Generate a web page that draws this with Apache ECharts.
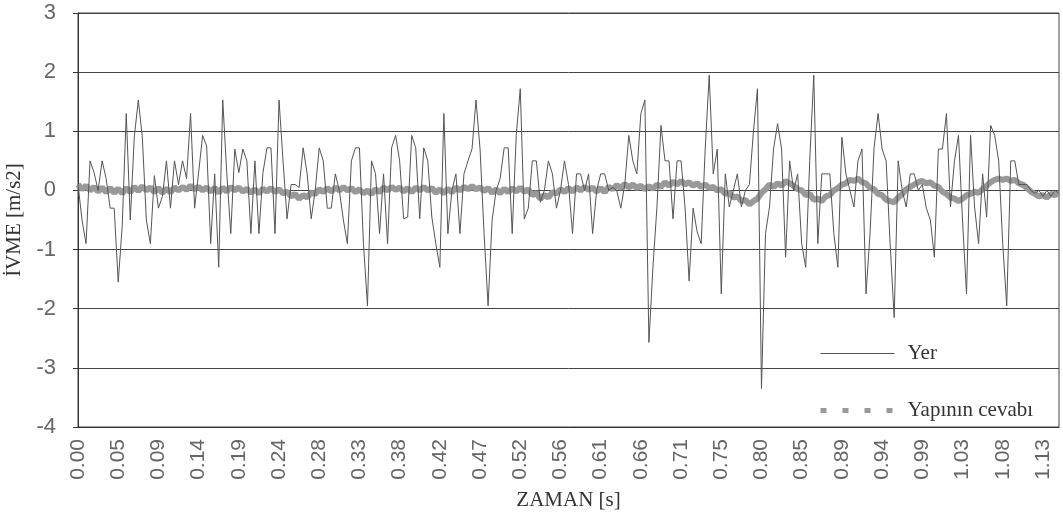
<!DOCTYPE html>
<html>
<head>
<meta charset="utf-8">
<script src="https://cdn.jsdelivr.net/npm/echarts@6/dist/echarts.min.js"></script>
<style>
  html, body { margin: 0; padding: 0; background: #fff; }
  #chart { width: 1063px; height: 521px; }
</style>
</head>
<body>
<div id="chart"></div>
<script>
// Sampling step of the record [s]
const dt = 0.0047;

// Time-axis labels shown every 10 samples
const tickLabels = ['0.00','0.05','0.09','0.14','0.19','0.24','0.28','0.33','0.38','0.42',
  '0.47','0.52','0.56','0.61','0.66','0.71','0.75','0.80','0.85','0.89','0.94','0.99',
  '1.03','1.08','1.13'];

// Ground acceleration "Yer" [m/s2]
const yer = [
  0.10, -0.50, -0.90, 0.50, 0.30, 0.00, 0.50, 0.20, -0.30, -0.30,
  -1.55, -0.60, 1.30, -0.50, 0.90, 1.53, 0.90, -0.50, -0.90, 0.25,
  -0.30, -0.10, 0.50, -0.30, 0.50, 0.10, 0.50, 0.20, 1.30, -0.30,
  0.30, 0.93, 0.75, -0.90, 0.28, -1.30, 1.53, 0.30, -0.73, 0.70,
  0.30, 0.70, 0.50, -0.73, 0.50, -0.73, 0.30, 0.72, 0.72, -0.73,
  1.53, 0.50, -0.48, 0.10, 0.10, 0.05, 0.72, 0.28, -0.48, 0.00,
  0.72, 0.50, -0.30, -0.30, 0.28, 0.00, -0.50, -0.90, 0.50, 0.72,
  0.72, -0.90, -1.95, 0.50, 0.28, -0.73, 0.28, -0.90, 0.72, 0.93,
  0.50, -0.48, -0.45, 0.93, 0.72, -0.48, 0.72, 0.50, -0.45, -0.90,
  -1.30, 1.30, -0.73, 0.00, 0.28, -0.73, 0.28, 0.50, 0.70, 1.53,
  0.70, -0.73, -1.95, -0.50, 0.00, 0.20, 0.72, 0.72, -0.73, 0.93,
  1.72, -0.48, -0.30, 0.50, 0.50, -0.20, 0.00, 0.50, 0.28, -0.30,
  0.00, 0.50, 0.10, -0.73, 0.28, 0.28, 0.00, 0.28, -0.73, 0.00,
  0.28, 0.28, 0.00, 0.05, 0.00, -0.30, 0.10, 0.93, 0.50, 0.28,
  1.30, 1.53, -2.57, -1.30, -0.28, 1.10, 0.50, 0.50, -0.48, 0.50,
  0.50, -0.30, -1.53, -0.30, -0.70, -0.90, 0.70, 1.95, 0.28, 0.70,
  -1.75, 0.28, -0.28, 0.00, 0.28, -0.28, 0.00, 0.10, 1.00, 1.72,
  -3.35, -0.73, -0.28, 0.70, 1.13, 0.70, -1.13, 0.50, 0.00, 0.28,
  -0.90, -1.30, 0.50, 1.95, -0.90, 0.28, 0.28, 0.28, -0.73, -1.30,
  0.90, 0.28, 0.00, -0.28, 0.50, 0.70, -1.75, -0.73, 0.72, 1.30,
  0.70, 0.50, -0.90, -2.15, 0.50, 0.00, -0.28, 0.28, 0.28, 0.00,
  0.10, -0.30, -0.50, -1.13, 0.70, 0.70, 1.30, -0.28, 0.50, 0.93,
  -0.50, -1.75, 0.93, -0.28, -0.90, 0.28, -0.45, 1.10, 0.93, 0.50,
  -0.90, -1.95, 0.50, 0.50, 0.10, 0.10, 0.10, 0.00, -0.05, 0.00,
  -0.10, 0.00, -0.10, 0.00, -0.05
];

// Structure response "Yapının cevabı" [m/s2]
const cevap = [
  0.10, 0.02, 0.08, 0.00, 0.06, -0.02, 0.05, -0.03, 0.04, -0.04,
  0.03, -0.05, 0.04, -0.03, 0.06, -0.01, 0.07, 0.00, 0.05, -0.03,
  0.04, -0.04, 0.03, -0.03, 0.05, 0.00, 0.06, 0.01, 0.08, 0.02,
  0.06, 0.00, 0.05, -0.02, 0.04, -0.04, 0.05, -0.02, 0.06, 0.00,
  0.05, -0.02, 0.03, -0.04, 0.02, -0.05, 0.03, -0.02, 0.04, -0.03,
  0.02, -0.05, -0.02, -0.10, -0.06, -0.14, -0.08, -0.12, -0.04, -0.06,
  0.02, -0.03, 0.04, -0.02, 0.05, 0.00, 0.06, 0.00, 0.04, -0.03,
  0.02, -0.05, 0.00, -0.06, 0.02, -0.03, 0.05, 0.00, 0.06, 0.01,
  0.05, -0.02, 0.04, -0.03, 0.05, 0.00, 0.06, 0.00, 0.04, -0.04,
  0.02, -0.05, 0.03, -0.03, 0.05, 0.00, 0.06, 0.02, 0.07, 0.02,
  0.05, -0.01, 0.04, -0.04, 0.02, -0.05, 0.03, -0.03, 0.04, -0.02,
  0.05, -0.02, 0.02, -0.08, -0.04, -0.14, -0.08, -0.12, -0.03, -0.05,
  0.02, -0.03, 0.04, -0.02, 0.05, 0.00, 0.06, 0.01, 0.05, -0.02,
  0.04, -0.03, 0.06, 0.02, 0.09, 0.04, 0.11, 0.05, 0.10, 0.04,
  0.08, 0.02, 0.07, 0.03, 0.10, 0.06, 0.14, 0.08, 0.15, 0.10,
  0.16, 0.10, 0.14, 0.08, 0.12, 0.06, 0.10, 0.04, 0.06, 0.00,
  0.02, -0.06, -0.04, -0.12, -0.10, -0.18, -0.16, -0.24, -0.18, -0.14,
  -0.04, 0.02, 0.10, 0.06, 0.12, 0.08, 0.16, 0.12, 0.08, 0.02,
  0.00, -0.08, -0.06, -0.16, -0.14, -0.18, -0.10, -0.08, 0.00, 0.04,
  0.10, 0.12, 0.18, 0.16, 0.20, 0.14, 0.12, 0.04, 0.02, -0.06,
  -0.08, -0.16, -0.18, -0.20, -0.12, -0.06, 0.02, 0.06, 0.10, 0.14,
  0.16, 0.12, 0.14, 0.08, 0.06, -0.02, -0.06, -0.12, -0.14, -0.18,
  -0.14, -0.08, -0.06, -0.02, -0.04, 0.02, 0.08, 0.14, 0.18, 0.20,
  0.18, 0.20, 0.16, 0.18, 0.12, 0.10, 0.04, -0.02, -0.06, -0.10,
  -0.08, -0.12, -0.06, -0.08, -0.04
];

const times = yer.map((_, i) => (i * dt).toFixed(4));

const chart = echarts.init(document.getElementById('chart'), null, { renderer: 'canvas' });

const sans = 'Liberation Sans, Arial, sans-serif';
const serif = 'Liberation Serif, Times New Roman, serif';
const yerColor = '#555555';
const cevapColor = '#999999';

chart.setOption({
  backgroundColor: '#ffffff',
  animation: false,
  grid: {
    left: 78, right: 4, top: 13, bottom: 94,
    outerBoundsMode: 'none',
    containLabel: false,
    show: true, borderColor: '#444', borderWidth: 1, backgroundColor: 'transparent'
  },
  legend: {
    orient: 'vertical',
    left: 813,
    top: 338,
    itemWidth: 74,
    itemHeight: 14,
    itemGap: 36,
    textStyle: { fontFamily: serif, fontSize: 21, color: '#333', padding: [0, 0, 0, 8] },
    data: [
      { name: 'Yer', itemStyle: { opacity: 0 }, lineStyle: { width: 1, color: yerColor } },
      { name: 'Yapının cevabı', itemStyle: { opacity: 0 }, lineStyle: { width: 5, color: cevapColor, type: [6, 16] } }
    ]
  },
  xAxis: {
    type: 'category',
    data: times,
    boundaryGap: false,
    name: 'ZAMAN [s]',
    nameLocation: 'middle',
    nameGap: 63,
    nameTextStyle: { fontFamily: serif, fontSize: 21, color: '#333' },
    axisLine: { onZero: false, lineStyle: { color: '#333', width: 1 } },
    axisTick: { show: false },
    axisLabel: {
      interval: 9,
      rotate: 90,
      margin: 12,
      fontFamily: sans,
      fontSize: 21,
      color: '#666',
      formatter: (v, i) => tickLabels[i / 10] || ''
    },
    splitLine: { show: false }
  },
  yAxis: {
    type: 'value',
    min: -4, max: 3, interval: 1,
    name: 'İVME [m/s2]',
    nameLocation: 'middle',
    nameGap: 53,
    nameTextStyle: { fontFamily: serif, fontSize: 21, color: '#333' },
    axisLine: { show: true, lineStyle: { color: '#333', width: 1 } },
    axisTick: { show: true, length: 5, lineStyle: { color: '#333' } },
    axisLabel: { fontFamily: sans, fontSize: 22, color: '#666', margin: 22 },
    splitLine: { show: true, lineStyle: { color: '#444', width: 1 } }
  },
  series: [
    {
      name: 'Yapının cevabı',
      type: 'line',
      data: cevap,
      symbol: 'none',
      z: 2,
      itemStyle: { color: cevapColor },
      lineStyle: { width: 6, color: cevapColor }
    },
    {
      name: 'Yer',
      type: 'line',
      data: yer,
      symbol: 'none',
      z: 3,
      itemStyle: { color: yerColor },
      lineStyle: { width: 1, color: yerColor }
    }
  ]
});
</script>
</body>
</html>
